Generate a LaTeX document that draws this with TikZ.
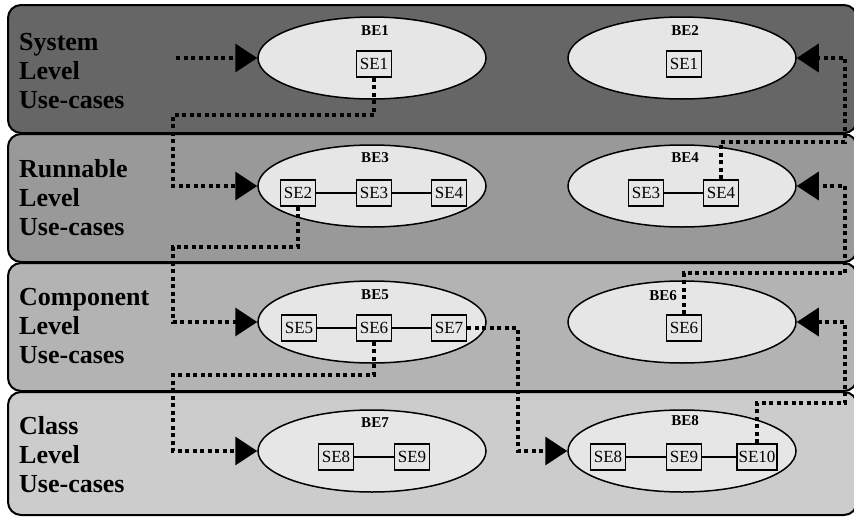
\documentclass[tikz,border=0pt]{standalone}
\usepackage{fontspec}
\setmainfont{Liberation Serif}
\usetikzlibrary{arrows.meta,shapes.geometric}
\definecolor{sysfill}{HTML}{666666}
\definecolor{runfill}{HTML}{999999}
\definecolor{compfill}{HTML}{B3B3B3}
\definecolor{classfill}{HTML}{CCCCCC}
\definecolor{befill}{HTML}{E6E6E6}
\newcommand{\lanefont}{\fontsize{26}{29}\selectfont\bfseries}
\newcommand{\befont}{\fontsize{15}{17}\selectfont\bfseries}
\newcommand{\sefont}{\fontsize{17}{19}\selectfont}

\begin{document}
\begin{tikzpicture}[x=1pt,y=-1pt,
  lane/.style={draw=black,line width=2pt,rounded corners=13pt},
  lanetext/.style={anchor=west,align=left,inner sep=0,font=\lanefont},
  be/.style={ellipse,draw=black,line width=1.5pt,fill=befill,minimum width=228pt,minimum height=82pt,inner sep=0},
  belabel/.style={inner sep=0,font=\befont},
  se/.style={draw=black,line width=1.5pt,fill=befill,minimum width=35pt,minimum height=26pt,inner sep=1.5pt,font=\sefont},
  link/.style={line width=1.5pt},
  flow/.style={line width=3.5pt,dash pattern=on 4pt off 3.5pt,-{Triangle[length=22pt,width=28pt]}}]
\useasboundingbox (0,0) rectangle (854,517);
% four levels
\draw[lane,fill=sysfill] (8,5) rectangle (857,133);
\draw[lane,fill=runfill] (8,134) rectangle (857,262);
\draw[lane,fill=compfill] (8,263) rectangle (857,391);
\draw[lane,fill=classfill] (8,392) rectangle (857,515);
\node[lanetext] (t1) at (19,71) {System\\Level\\Use-cases};
\node[lanetext] (t2) at (19,198) {Runnable\\Level\\Use-cases};
\node[lanetext] (t3) at (19,326) {Component\\Level\\Use-cases};
\node[lanetext] (t4) at (19,455) {Class\\Level\\Use-cases};
% behaviour ellipses
\node[be] (be1) at (372,58) {};
\node[be] (be2) at (682,58) {};
\node[be] (be3) at (372,186) {};
\node[be] (be4) at (682,186) {};
\node[be] (be5) at (372,322) {};
\node[be] (be6) at (682,322) {};
\node[be] (be7) at (372,451) {};
\node[be] (be8) at (682,451) {};
\node[belabel] (l1) at (375,31) {BE1};
\node[belabel] (l2) at (685,31) {BE2};
\node[belabel] (l3) at (375,158) {BE3};
\node[belabel] (l4) at (685,158) {BE4};
\node[belabel] (l5) at (375,295) {BE5};
\node[belabel] (l6) at (663,296) {BE6};
\node[belabel] (l7) at (375,423) {BE7};
\node[belabel] (l8) at (685,421) {BE8};
% elements
\node[se] (s11) at (374,64) {SE1};
\node[se] (s21) at (684,64) {SE1};
\node[se] (s32) at (298,193) {SE2};
\node[se] (s33) at (374,193) {SE3};
\node[se] (s34) at (449,193) {SE4};
\node[se] (s43) at (646,193) {SE3};
\node[se] (s44) at (721,193) {SE4};
\node[se] (s55) at (299,328) {SE5};
\node[se] (s56) at (374,328) {SE6};
\node[se] (s57) at (449,328) {SE7};
\node[se] (s66) at (684,328) {SE6};
\node[se] (s78) at (336,457) {SE8};
\node[se] (s79) at (412,457) {SE9};
\node[se] (s88) at (608,457) {SE8};
\node[se] (s89) at (684,457) {SE9};
\node[se] (s810) at (757,457) {SE10};
\draw[link] (s32) -- (s33) -- (s34);
\draw[link] (s43) -- (s44);
\draw[link] (s55) -- (s56) -- (s57);
\draw[link] (s78) -- (s79);
\draw[link] (s88) -- (s89) -- (s810);
% flows between levels
\coordinate (in) at (176,58);
\draw[flow] (in) -- (be1.west);
\draw[flow] (s11.south) |- (173,115) |- (be3.west);
\draw[flow] (s32.south) |- (173,247) |- (be5.west);
\draw[flow] (s56.south) |- (173,375) |- (be7.west);
\draw[flow] (s57.east) -| (518,451) -- (be8.west);
\draw[flow] (s810.north) |- (845,403) |- (be6.east);
\draw[flow] (s66.north) |- (845,273) |- (be4.east);
\draw[flow] (s44.north) |- (845,142) |- (be2.east);
\end{tikzpicture}
\end{document}
